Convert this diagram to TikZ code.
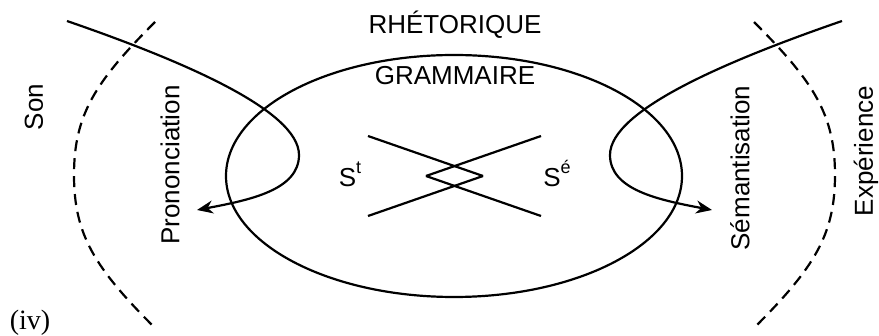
\documentclass[tikz,border=0pt]{standalone}
\usepackage{fontspec}
\setmainfont{Liberation Sans}
\newfontfamily\labelserif{Liberation Serif}
\usetikzlibrary{arrows.meta,positioning,calc}
\newcommand{\expo}[1]{\raisebox{6.5pt}{\fontsize{9}{10}\selectfont #1}}

\begin{document}
\begin{tikzpicture}[x=0.5pt, y=-0.5pt, line width=1.1pt, every node/.style={font=\fontsize{13}{15}\selectfont, inner sep=0pt}, bound/.style={dash pattern=on 5.5pt off 3.5pt}]
        \useasboundingbox (0,0) rectangle (879,336);
        \node (rhet) at (455,25) {RHÉTORIQUE};
        \node (gram) at (455,76) {GRAMMAIRE};
        \node (st) at (350,174) {S\expo{t}};
        \node (se) at (557,174) {S\expo{é}};
        \node[rotate=90] (son) at (34,107) {Son};
        \node[rotate=90] (pron) at (170,165) {Prononciation};
        \node[rotate=90] (sem) at (740,168) {Sémantisation};
        \node[rotate=90] (exp) at (866,151) {Expérience};
        \node[font=\labelserif\fontsize{14}{16}\selectfont] (iv) at (30,323) {(iv)};
        % grammaire
        \draw (454,176) ellipse (228 and 121);
        \coordinate (tl) at (368,136);
        \coordinate (tr) at (541,136);
        \coordinate (bl) at (368,216);
        \coordinate (br) at (541,216);
        \coordinate (l) at (426,176);
        \coordinate (r) at (483,176);
        \draw (tl) -- (r);
        \draw (tr) -- (l);
        \draw (bl) -- (r);
        \draw (br) -- (l);
        % limites son / experience
        \coordinate (sontop) at (155,22);
        \coordinate (sonmid) at (74,175);
        \coordinate (sonbot) at (155,328);
        \coordinate (exptop) at (754,22);
        \coordinate (expmid) at (835,175);
        \coordinate (expbot) at (754,328);
        \draw[bound] (sontop) .. controls (95,82) and (74,115) .. (sonmid) .. controls (74,235) and (95,268) .. (sonbot);
        \draw[bound] (exptop) .. controls (814,82) and (835,115) .. (expmid) .. controls (835,235) and (814,268) .. (expbot);
        % boucles
        \coordinate (pronin) at (67,21);
        \coordinate (pronend) at (197,210);
        \coordinate (semin) at (842,21);
        \coordinate (semend) at (712,210);
        \draw[-{Stealth[length=8pt, width=6.5pt]}] (pronin) .. controls (180,60) and (299,110) .. (299,155) .. controls (299,190) and (250,200) .. (pronend);
        \draw[-{Stealth[length=8pt, width=6.5pt]}] (semin) .. controls (729,60) and (610,110) .. (610,155) .. controls (610,190) and (659,200) .. (semend);
      \end{tikzpicture}
\end{document}
